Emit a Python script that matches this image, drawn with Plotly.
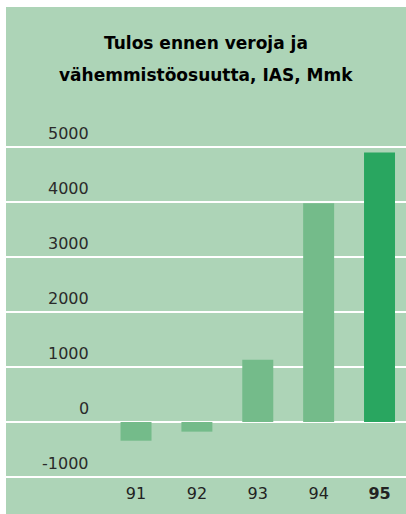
import plotly.graph_objects as go

categories = ["91", "92", "93", "94", "95"]
values = [-340, -175, 1130, 3975, 4900]
x_tick_labels = ["91", "92", "93", "94", "<b>95</b>"]
y_ticks = [-1000, 0, 1000, 2000, 3000, 4000, 5000]
y_tick_labels = ["-1000", "0", "1000", "2000", "3000", "4000", "5000"]
title_lines = ["Tulos ennen veroja ja", "vähemmistöosuutta, IAS, Mmk"]

BG = "#ADD4B7"
LIGHT = "#74BB8A"
DARK = "#29A660"
colors = [LIGHT, LIGHT, LIGHT, LIGHT, DARK]

W, H = 406, 514
ML, MR = 6, 0
MT = 100
MB = H - 482
PW = W - ML - MR
PH = H - MT - MB

def px_x(p):  # screen px -> paper x
    return (p - ML) / PW

def px_y(p):  # screen px -> paper y
    return (H - MB - p) / PH

fig = go.Figure(go.Bar(
    x=categories, y=values, marker=dict(color=colors, line=dict(width=0)),
    width=0.509, hoverinfo="skip"))

fig.update_layout(
    width=W, height=H,
    margin=dict(l=ML, r=MR, t=MT, b=MB, pad=0, autoexpand=False),
    paper_bgcolor=BG, plot_bgcolor=BG,
    showlegend=False,
    font=dict(family="DejaVu Sans", size=16, color="#2a2a2a"),
    xaxis=dict(type="category", range=[-2.136, 4.435], showgrid=False,
               zeroline=False, showline=False, ticks="",
               tickvals=categories, ticktext=x_tick_labels,
               tickfont=dict(family="DejaVu Sans", size=16, color="#222")),
    yaxis=dict(range=[-1090.9, 5854.5], tickvals=y_ticks,
               showgrid=True, gridcolor="white", gridwidth=2.5,
               zeroline=False, showline=False, ticks="",
               showticklabels=False),
    shapes=[
        dict(type="rect", xref="paper", yref="paper", layer="above",
             x0=px_x(-2), x1=px_x(6), y0=px_y(H + 2), y1=px_y(-2),
             fillcolor="white", line=dict(width=0)),
        dict(type="rect", xref="paper", yref="paper", layer="above",
             x0=px_x(-2), x1=px_x(W + 2), y0=px_y(7), y1=px_y(-2),
             fillcolor="white", line=dict(width=0)),
    ],
)

# y tick labels sit above their gridlines, right-aligned
for v, lab in zip(y_ticks, y_tick_labels):
    fig.add_annotation(
        text=lab, xref="paper", yref="y", x=px_x(91), y=v,
        xanchor="right", yanchor="middle", yshift=14, showarrow=False,
        font=dict(family="DejaVu Sans", size=16, color="#2a2a2a"))

for i, line in enumerate(title_lines):
    fig.add_annotation(
        text="<b>" + line + "</b>", xref="paper", yref="paper",
        x=px_x(206), y=px_y(43 + 32 * i), xanchor="center", yanchor="middle",
        showarrow=False,
        font=dict(family="DejaVu Sans", size=17, color="black"))

fig.write_html(
    "out.html",
    config={"displayModeBar": False, "staticPlot": True},
    post_script="document.body.style.margin='0';"
                "document.documentElement.style.overflow='hidden';",
)
